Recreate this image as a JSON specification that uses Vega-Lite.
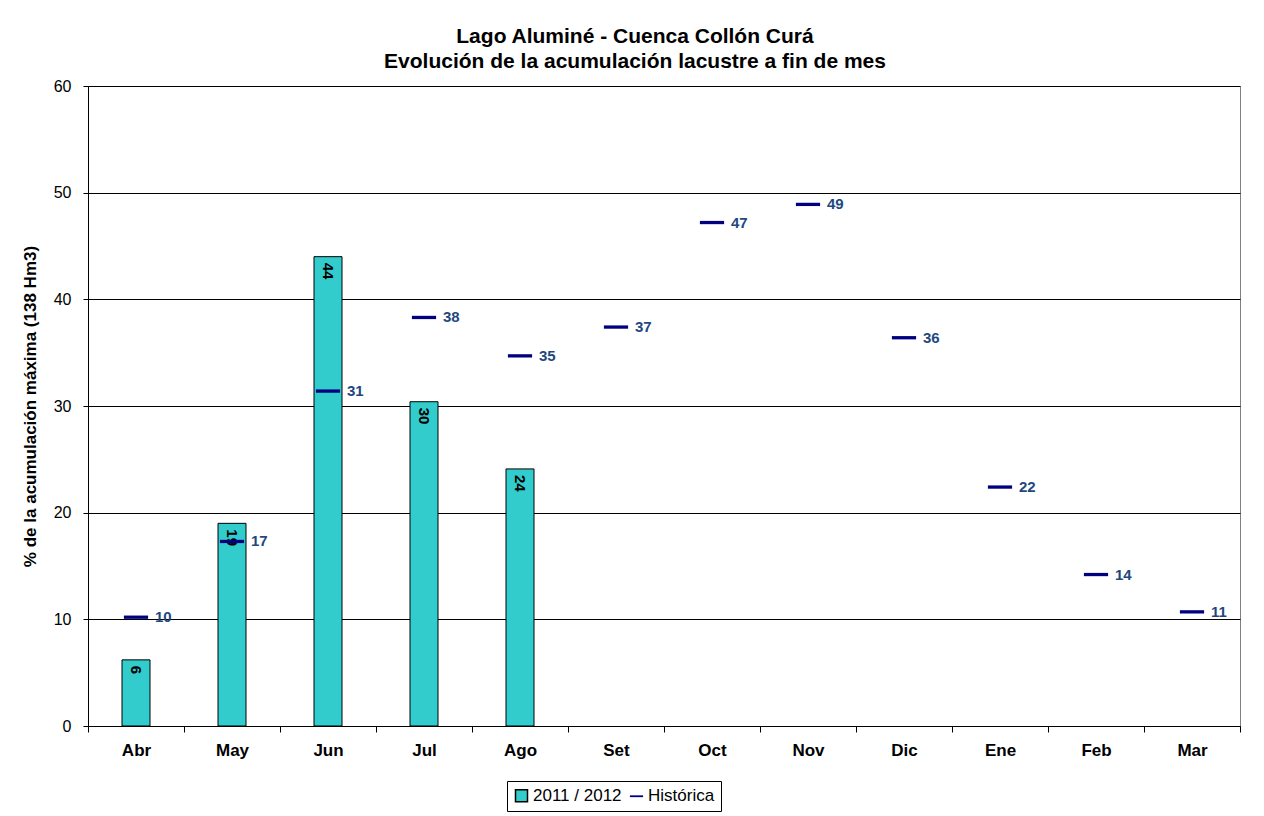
{
  "$schema": "https://vega.github.io/schema/vega-lite/v6.json",
  "width": 1152,
  "height": 640,
  "autosize": {"type": "none"},
  "padding": {"left": 88, "top": 86, "right": 24, "bottom": 90},
  "background": "white",
  "config": {
    "font": "Liberation Sans",
    "view": {"stroke": "#808080", "strokeWidth": 1}
  },
  "title": {
    "text": ["Lago Aluminé - Cuenca Collón Curá", "Evolución de la acumulación lacustre a fin de mes"],
    "fontSize": 21,
    "fontWeight": "bold",
    "lineHeight": 25,
    "anchor": "middle",
    "dx": -29,
    "offset": 6,
    "color": "black",
    "font": "Liberation Sans"
  },
  "data": {
    "values": [
      {"mes": "Abr", "actual": 6.2, "hist": 10.2},
      {"mes": "May", "actual": 19.0, "hist": 17.3},
      {"mes": "Jun", "actual": 44.0, "hist": 31.4},
      {"mes": "Jul", "actual": 30.4, "hist": 38.3},
      {"mes": "Ago", "actual": 24.1, "hist": 34.7},
      {"mes": "Set", "actual": null, "hist": 37.4},
      {"mes": "Oct", "actual": null, "hist": 47.2},
      {"mes": "Nov", "actual": null, "hist": 48.9},
      {"mes": "Dic", "actual": null, "hist": 36.4},
      {"mes": "Ene", "actual": null, "hist": 22.4},
      {"mes": "Feb", "actual": null, "hist": 14.2},
      {"mes": "Mar", "actual": null, "hist": 10.7}
    ]
  },
  "encoding": {
    "x": {
      "field": "mes",
      "type": "nominal",
      "sort": ["Abr", "May", "Jun", "Jul", "Ago", "Set", "Oct", "Nov", "Dic", "Ene", "Feb", "Mar"],
      "scale": {"paddingInner": 0, "paddingOuter": 0},
      "axis": {
        "title": null,
        "labelAngle": 0,
        "labelFontSize": 17,
        "labelFontWeight": "bold",
        "labelColor": "black",
        "tickBand": "extent",
        "tickSize": 6,
        "tickColor": "black",
        "domainColor": "black",
        "labelPadding": 10,
        "grid": false
      }
    }
  },
  "layer": [
    {
      "mark": {"type": "bar", "width": 28, "strokeWidth": 1},
      "encoding": {
        "y": {
          "field": "actual",
          "type": "quantitative",
          "scale": {"domain": [0, 60], "nice": false},
          "axis": {
            "values": [0, 10, 20, 30, 40, 50, 60],
            "title": "% de la acumulación máxima (138 Hm3)",
            "titleFontSize": 17,
            "titleFontWeight": "bold",
            "titleColor": "black",
            "titlePadding": 14,
            "labelFontSize": 16,
            "labelColor": "black",
            "labelPadding": 12,
            "tickSize": 5,
            "tickColor": "black",
            "domainColor": "black",
            "grid": true,
            "gridColor": "black",
            "gridWidth": 1
          }
        },
        "color": {
          "datum": "2011 / 2012",
          "scale": {"domain": ["2011 / 2012", "Histórica"], "range": ["#33CCCC", "#000080"]},
          "legend": {
            "title": null,
            "orient": "none",
            "legendX": 419,
            "legendY": 695,
            "direction": "horizontal",
            "strokeColor": "black",
            "fillColor": "white",
            "padding": 6,
            "labelFontSize": 17,
            "labelColor": "black",
            "labelLimit": 200,
            "symbolSize": 144,
            "symbolStrokeWidth": 1.5,
            "symbolOpacity": 1,
            "columnPadding": 4,
            "labelOffset": 3
          }
        },
        "stroke": {
          "datum": "2011 / 2012",
          "scale": {"domain": ["2011 / 2012", "Histórica"], "range": ["black", "transparent"]},
          "legend": {
            "title": null,
            "orient": "none",
            "legendX": 419,
            "legendY": 695,
            "direction": "horizontal",
            "strokeColor": "black",
            "fillColor": "white",
            "padding": 6,
            "labelFontSize": 17,
            "labelColor": "black",
            "labelLimit": 200,
            "symbolSize": 144,
            "symbolStrokeWidth": 1.5,
            "symbolOpacity": 1,
            "columnPadding": 4,
            "labelOffset": 3
          }
        }
      }
    },
    {
      "mark": {"type": "text", "angle": 90, "align": "left", "baseline": "middle", "dx": 6, "fontSize": 15, "fontWeight": "bold"},
      "encoding": {
        "y": {"field": "actual", "type": "quantitative"},
        "text": {"field": "actual", "type": "quantitative", "format": ".0f"},
        "color": {"value": "black"}
      }
    },
    {
      "mark": {"type": "point", "filled": true, "size": 484, "opacity": 1, "strokeWidth": 0},
      "encoding": {
        "y": {"field": "hist", "type": "quantitative"},
        "color": {"datum": "Histórica"},
        "shape": {
          "datum": "Histórica",
          "scale": {"domain": ["2011 / 2012", "Histórica"], "range": ["square", "M-1.1,-0.15H1.1V0.15H-1.1Z"]},
          "legend": {
            "title": null,
            "orient": "none",
            "legendX": 419,
            "legendY": 695,
            "direction": "horizontal",
            "strokeColor": "black",
            "fillColor": "white",
            "padding": 6,
            "labelFontSize": 17,
            "labelColor": "black",
            "labelLimit": 200,
            "symbolSize": 144,
            "symbolStrokeWidth": 1.5,
            "symbolOpacity": 1,
            "columnPadding": 4,
            "labelOffset": 3
          }
        }
      }
    },
    {
      "mark": {"type": "text", "align": "left", "baseline": "middle", "dx": 19, "fontSize": 15, "fontWeight": "bold"},
      "encoding": {
        "y": {"field": "hist", "type": "quantitative"},
        "text": {"field": "hist", "type": "quantitative", "format": ".0f"},
        "color": {"value": "#1F497D"}
      }
    }
  ]
}
